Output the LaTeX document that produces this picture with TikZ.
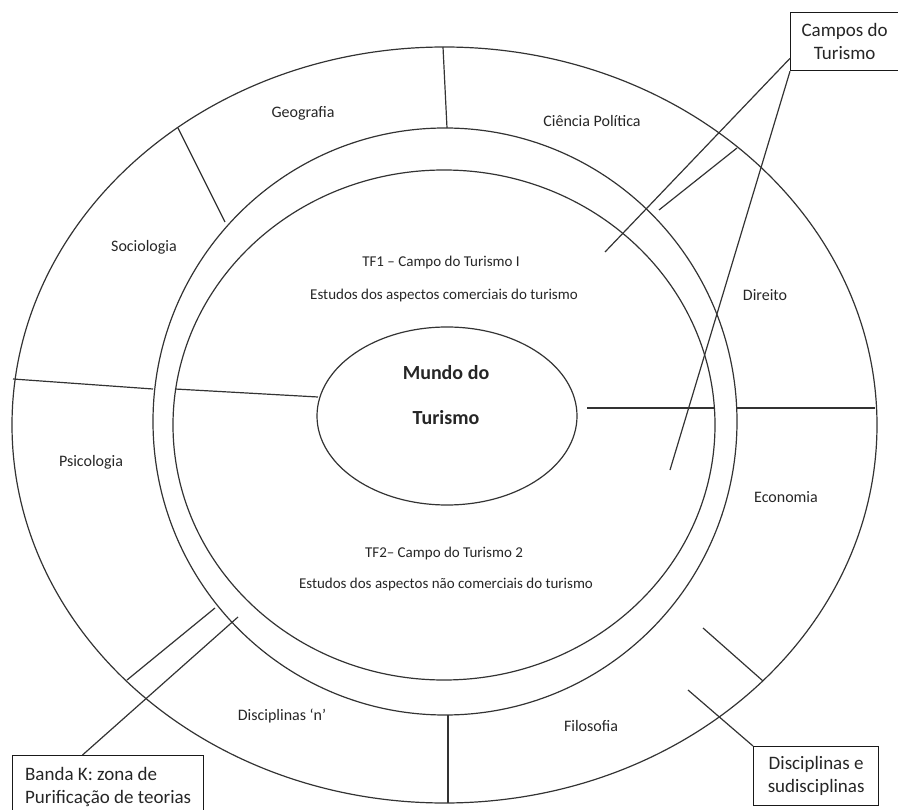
\documentclass[tikz,border=0pt]{standalone}
\usepackage{fontspec}
\setmainfont{Carlito}
\usetikzlibrary{shapes.geometric,positioning}

\begin{document}
\begin{tikzpicture}[x=1pt,y=-1pt,
  ring/.style={draw=black!80, line width=1.2pt},
  divider/.style={draw=black!80, line width=1.2pt},
  campo/.style={font=\fontsize{16}{19}\selectfont, text=black!85},
  estudo/.style={font=\fontsize{15}{18}\selectfont, text=black!85},
  callout/.style={draw=black!90, line width=1.3pt, font=\fontsize{19}{23}\selectfont,
                  text=black!85, anchor=north west},
  pointer/.style={draw=black!80, line width=1.2pt}]
\useasboundingbox (0,0) rectangle (898,810);

% rings: disciplines, band K, fields of tourism
\draw[ring] (444.5,425) ellipse [x radius=432.5pt, y radius=378pt];
\draw[ring] (445,421.5) ellipse [x radius=292pt, y radius=293.5pt];
\draw[ring] (444,425) ellipse [x radius=271pt, y radius=255pt];

% world of tourism
\node[draw=black!80, line width=1.2pt, ellipse, minimum width=260pt,
      minimum height=178pt] (mundo) at (447,416) {};
\node[font=\fontsize{20}{45}\selectfont\bfseries, text=black!85, align=center]
      (mundotxt) at (446,395) {Mundo do\\Turismo};

% dividers of the disciplines
\draw[divider] (443,47) -- (447,128);
\draw[divider] (178,128) -- (225,222);
\draw[divider] (13,379) -- (153,389);
\draw[divider] (737,148) -- (659,210);
\draw[divider] (737,408) -- (875,408);
\draw[divider] (703,628) -- (763,681);
\draw[divider] (448,715) -- (448,803);
\draw[divider] (215,608) -- (127,680);
% dividers of the two fields
\draw[divider] (175,389) -- (318,397);
\draw[divider] (587,408) -- (715,408);

% discipline names
\node[campo] (geo) at (303,113) {Geografia};
\node[campo] (cpol) at (592,121) {Ciência Política};
\node[campo] (socio) at (144,247) {Sociologia};
\node[campo] (dir) at (765,295) {Direito};
\node[campo] (psico) at (91,462) {Psicologia};
\node[campo] (eco) at (786,497) {Economia};
\node[campo] (discn) at (282,716) {Disciplinas ‘n’};
\node[campo] (filo) at (591,726) {Filosofia};

% the two fields
\node[estudo] (tf1) at (441,263) {TF1 – Campo do Turismo I};
\node[estudo] (tf1est) at (444,296) {Estudos dos aspectos comerciais do turismo};
\node[estudo] (tf2) at (444,554) {TF2– Campo do Turismo 2};
\node[estudo] (tf2est) at (446,585) {Estudos dos aspectos não comerciais do turismo};

% callouts
\node[callout, minimum width=108pt, minimum height=58pt, align=center]
      (campos) at (790,12) {Campos do\\Turismo};
\node[callout, minimum width=125pt, minimum height=59pt, align=center]
      (discsub) at (753,746) {Disciplinas e\\sudisciplinas};
\node[callout, minimum width=191pt, minimum height=62pt, align=left,
      font=\fontsize{19}{23}\selectfont\frenchspacing] (banda) at (12,755)
      {Banda K: zona de\\Purificação de teorias};

\coordinate (tf1pt) at (605,252);
\coordinate (tf2pt) at (670,470);
\coordinate (discpt) at (688,690);
\coordinate (bandapt) at (238,617);

\draw[pointer] (campos.197) -- (tf1pt);
\draw[pointer] (campos.south west) -- (tf2pt);
\draw[pointer] (discsub.north west) -- (discpt);
\draw[pointer] (banda.129) -- (bandapt);
\end{tikzpicture}
\end{document}
